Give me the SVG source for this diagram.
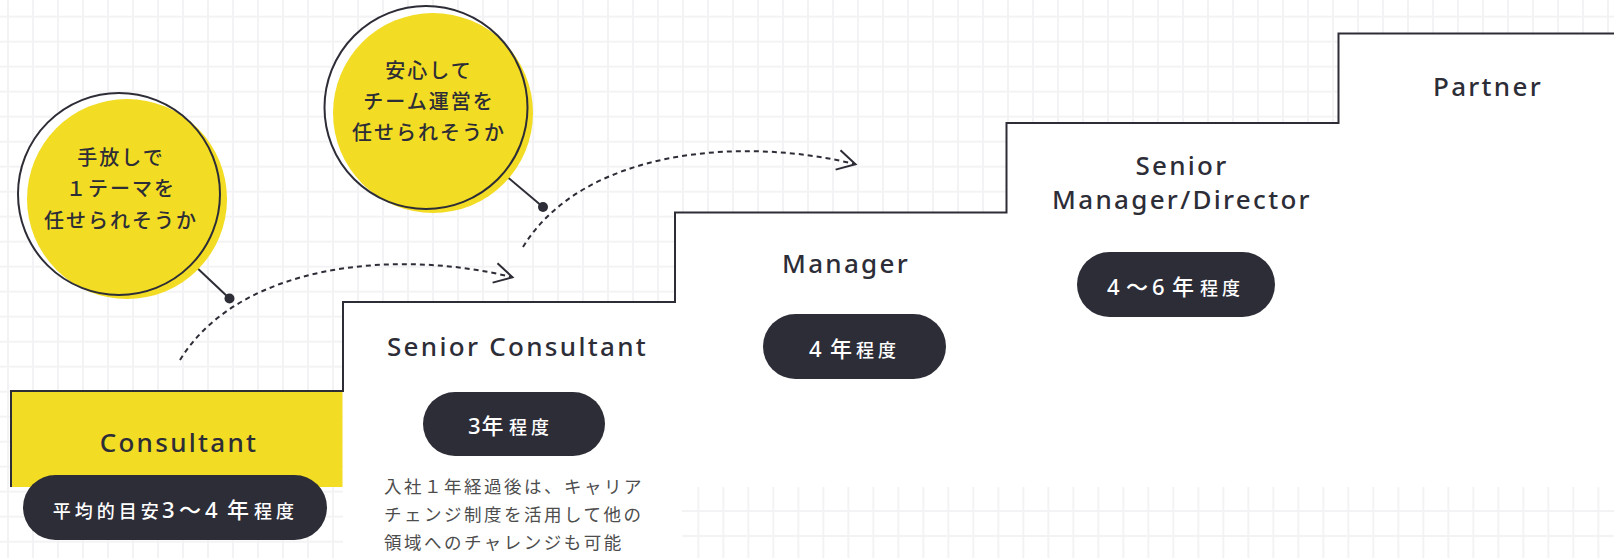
<svg xmlns="http://www.w3.org/2000/svg" width="1614" height="558" viewBox="0 0 1614 558">
<defs>
<pattern id="grid" x="7" y="15.7" width="25" height="25" patternUnits="userSpaceOnUse">
<rect width="25" height="25" fill="#ffffff"/>
<rect x="0" y="0" width="2" height="25" fill="#f3f3f5"/>
<rect x="0" y="0" width="25" height="2" fill="#f3f3f5"/>
</pattern>
<pattern id="grid2" x="697.3" y="510" width="25" height="25" patternUnits="userSpaceOnUse">
<rect width="25" height="25" fill="#ffffff"/>
<rect x="0" y="0" width="2" height="25" fill="#f3f3f5"/>
<rect x="0" y="0" width="25" height="2" fill="#f3f3f5"/>
</pattern>
<marker id="chev" markerUnits="userSpaceOnUse" markerWidth="26" markerHeight="26" viewBox="-22 -13 26 26" refX="0" refY="0" orient="auto">
<path d="M-18,-10 L0,0 L-18,10" fill="none" stroke="#2d2d37" stroke-width="2" stroke-linejoin="miter"/>
</marker>
</defs>
<style>
.title{font-family:"Noto Sans","Noto Sans CJK JP",sans-serif;font-size:26px;font-weight:500;fill:#2d2d37;letter-spacing:2.3px;text-anchor:middle}
.pill{fill:#2d2d37}
.pt{font-family:"Noto Sans","Noto Sans CJK JP",sans-serif;fill:#ffffff;font-weight:500}
.big{font-size:22px}
.sm{font-size:18px;letter-spacing:4px}
.bub{font-family:"Noto Sans CJK JP",sans-serif;font-size:20px;font-weight:500;fill:#2d2d37;letter-spacing:2px;text-anchor:middle}
.desc{font-family:"Noto Sans CJK JP",sans-serif;font-size:17.5px;fill:#4d4d4d;letter-spacing:2.5px}
.dash{fill:none;stroke:#2d2d37;stroke-width:2;stroke-dasharray:5 4}
.ln{stroke:#2d2d37;stroke-width:2;fill:none}
.dot{fill:#2d2d37}
.ring{fill:none;stroke:#2d2d37;stroke-width:2}
.yel{fill:#f2dc24}
</style>

<g id="background">
<rect x="0" y="0" width="1614" height="558" fill="url(#grid)"/>
<rect x="682" y="487" width="932" height="71" fill="url(#grid2)"/>
<path d="M343,302 H675 V212.5 H1006.5 V123 H1338.5 V33.5 H1614 V487 H682 V558 H343 Z" fill="#ffffff"/>
</g>

<g id="staircase">
<rect class="yel" x="11" y="391" width="331.5" height="96"/>
<path class="ln" d="M11,487 V391 H343 V302 H675 V212.5 H1006.5 V123 H1338.5 V33.5 H1620"/>
</g>

<g id="connectors">
<path class="dash" d="M180,360 C240,262 400,249 512.5,277.3" marker-end="url(#chev)"/>
<path class="dash" d="M523,247 C583,149 743,136 855.5,164.3" marker-end="url(#chev)"/>
<line class="ln" x1="192.4" y1="263.4" x2="229.5" y2="298.5"/>
<circle class="dot" cx="229.5" cy="298.5" r="5"/>
<line class="ln" x1="503" y1="173.3" x2="543" y2="207"/>
<circle class="dot" cx="543" cy="207" r="5"/>
</g>

<g id="bubble-1">
<circle cx="119" cy="194" r="101" fill="#ffffff"/>
<circle class="yel" cx="127" cy="199" r="100"/>
<circle class="ring" cx="119" cy="194" r="101"/>
<text class="bub" x="121" y="165">手放しで</text>
<text class="bub" x="121" y="196">１テーマを</text>
<text class="bub" x="121" y="228">任せられそうか</text>
</g>

<g id="bubble-2">
<circle cx="426" cy="107.5" r="101.5" fill="#ffffff"/>
<circle class="yel" cx="433" cy="113" r="100"/>
<circle class="ring" cx="426" cy="107.5" r="101.5"/>
<text class="bub" x="429" y="78">安心して</text>
<text class="bub" x="429" y="109">チーム運営を</text>
<text class="bub" x="429" y="140">任せられそうか</text>
</g>

<g id="consultant">
<text class="title" x="179" y="451.5">Consultant</text>
<rect class="pill" x="23" y="475" width="304" height="65" rx="32.5"/>
<text class="pt" y="518.3"><tspan class="sm" x="52.7">平均的目安</tspan><tspan class="big" x="162">3</tspan><tspan class="big" x="179">〜</tspan><tspan class="big" x="205">4</tspan><tspan class="big" x="227">年</tspan><tspan class="sm" x="254">程度</tspan></text>
</g>

<g id="senior-consultant">
<text class="title" x="517.5" y="356">Senior Consultant</text>
<rect class="pill" x="423" y="392" width="182" height="64" rx="32"/>
<text class="pt" y="434.3"><tspan class="big" x="468">3</tspan><tspan class="big" x="481.5">年</tspan><tspan class="sm" x="509">程度</tspan></text>
<text class="desc" x="384" y="493">入社１年経過後は、キャリア</text>
<text class="desc" x="384" y="521">チェンジ制度を活用して他の</text>
<text class="desc" x="384" y="548.5">領域へのチャレンジも可能</text>
</g>

<g id="manager">
<text class="title" x="846" y="272.5">Manager</text>
<rect class="pill" x="763" y="314" width="183" height="65" rx="32.5"/>
<text class="pt" y="356.7"><tspan class="big" x="809">4</tspan><tspan class="big" x="830">年</tspan><tspan class="sm" x="856">程度</tspan></text>
</g>

<g id="senior-manager">
<text class="title" x="1182" y="175">Senior</text>
<text class="title" x="1182" y="209.3">Manager/Director</text>
<rect class="pill" x="1077" y="252" width="198" height="65" rx="32.5"/>
<text class="pt" y="295"><tspan class="big" x="1107">4</tspan><tspan class="big" x="1126">〜</tspan><tspan class="big" x="1152">6</tspan><tspan class="big" x="1172">年</tspan><tspan class="sm" x="1200">程度</tspan></text>
</g>

<g id="partner">
<text class="title" x="1488" y="95.5">Partner</text>
</g>
</svg>
